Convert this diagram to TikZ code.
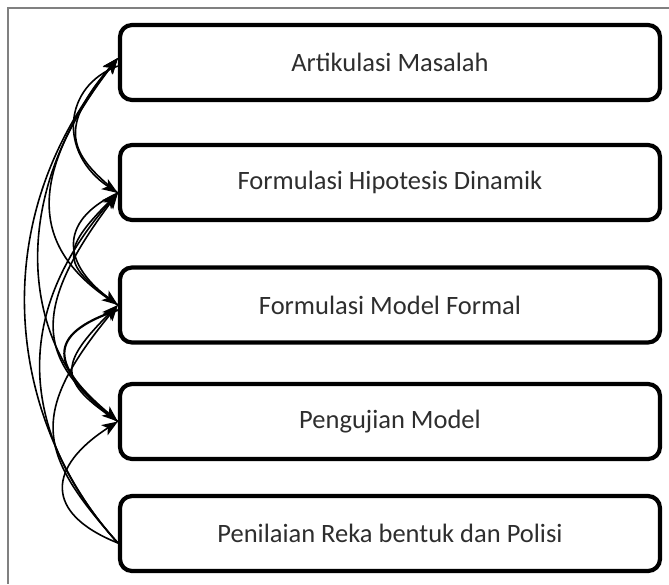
\documentclass[tikz,border=0pt]{standalone}
\usepackage{fontspec}
\setmainfont{Carlito}
\usetikzlibrary{arrows.meta,calc}
\begin{document}
\begin{tikzpicture}[x=1pt,y=-1pt,
  stage/.style={draw=black, line width=4.2pt, rounded corners=12pt,
    minimum width=540pt, minimum height=75pt, inner sep=0pt,
    font=\fontsize{26.5}{31}\selectfont, text=black!82},
  link/.style={line width=1.6pt, -{Stealth[length=16pt,width=12pt,inset=4pt]}}]
\useasboundingbox (0,0) rectangle (669,584);
% frame
\draw[gray, line width=1.2pt] (669,8) -- (8,8) -- (8,584);

% process stages
\node[stage] (b1) at (390,62.5)  {Artikulasi Masalah};
\node[stage] (b2) at (390,182.5) {Formulasi Hipotesis Dinamik};
\node[stage] (b3) at (390,305)   {Formulasi Model Formal};
\node[stage] (b4) at (390,421.5) {Pengujian Model};
\node[stage] (b5) at (390,533.5) {Penilaian Reka bentuk dan Polisi};

% attachment points on the left sides
\coordinate (t1) at ($(b1.west)+(0,-4.5)$);
\coordinate (s1) at ($(b1.west)+(0,3.5)$);
\coordinate (t2) at ($(b2.west)+(0,10.5)$);
\coordinate (t3) at ($(b3.west)+(0,0)$);
\coordinate (s3) at ($(b3.west)+(0,5)$);
\coordinate (t4) at ($(b4.west)+(0,0)$);
\coordinate (s5) at ($(b5.west)+(0,9.5)$);

% feedback from the last stage
\draw[link] (s5) .. controls +(-105,-115) and +(-140,170) .. (t1);
\draw[link] (s5) .. controls +(-90,-100) and +(-115,130) .. (t2);
\draw[link] (s5) .. controls +(-80,-90) and +(-90,110) .. (t3);
\draw[link] (s5) .. controls +(-75,-30) and +(-70,45) .. (t4);

% feedback from testing
\draw[link] (t4) .. controls +(-90,-60) and +(-120,150) .. (t1);
\draw[link] (t4) .. controls +(-80,-60) and +(-90,120) .. (t2);
\draw[link] (t4) .. controls +(-60,-40) and +(-60,60) .. (t3);

% feedback from the formal model
\draw[link] (t3) .. controls +(-80,-50) and +(-100,130) .. (t1);
\draw[link] (t3) .. controls +(-55,-40) and +(-60,60) .. (t2);

% feedback from the hypothesis
\draw[link] (t2) .. controls +(-50,-40) and +(-60,70) .. (t1);

% forward steps
\draw[link] (s1) .. controls +(-55,20) and +(-60,-40) .. (t2);
\draw[link] (t2) .. controls +(-55,25) and +(-60,-45) .. (t3);
\draw[link, line width=2.2pt] (s3) .. controls +(-75,25) and +(-65,-55) .. (t4);
\end{tikzpicture}
\end{document}
